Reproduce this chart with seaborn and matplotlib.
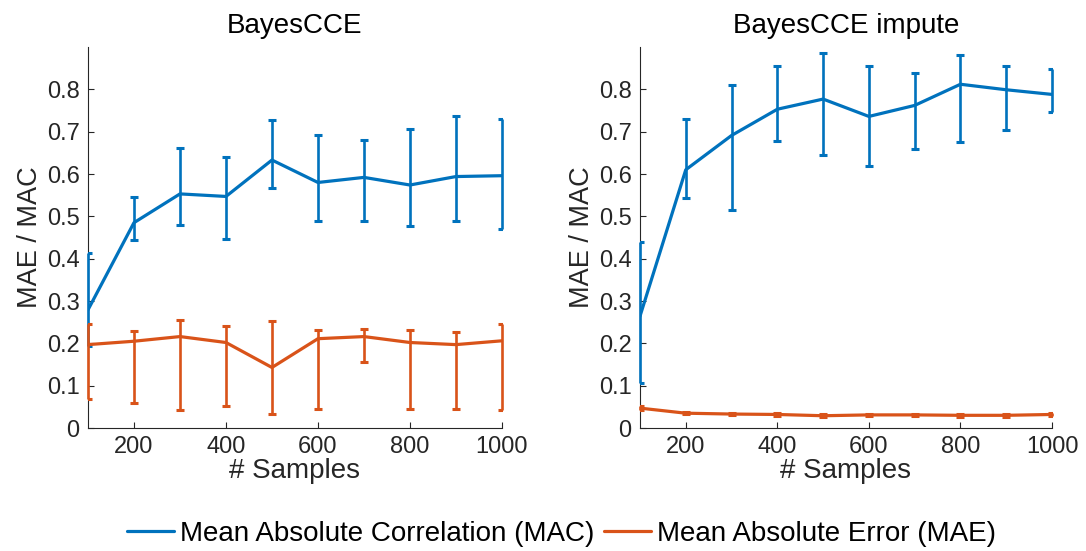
import numpy as np
import pandas as pd
import matplotlib
matplotlib.use("Agg")
import matplotlib.pyplot as plt
import seaborn as sns

# Data
samples = [100, 200, 300, 400, 500, 600, 700, 800, 900, 1000]

# BayesCCE
mac_mean = [0.279, 0.485, 0.553, 0.547, 0.633, 0.580, 0.592, 0.574, 0.594, 0.596]
mac_low = [0.193, 0.445, 0.480, 0.447, 0.568, 0.490, 0.489, 0.478, 0.488, 0.470]
mac_high = [0.413, 0.545, 0.662, 0.640, 0.728, 0.691, 0.681, 0.706, 0.736, 0.729]
mae_mean = [0.197, 0.205, 0.216, 0.202, 0.143, 0.211, 0.216, 0.202, 0.197, 0.206]
mae_low = [0.069, 0.059, 0.042, 0.051, 0.034, 0.046, 0.157, 0.046, 0.045, 0.042]
mae_high = [0.245, 0.230, 0.256, 0.242, 0.252, 0.231, 0.234, 0.231, 0.227, 0.245]

# BayesCCE impute
mac_imp_mean = [0.264, 0.610, 0.691, 0.753, 0.777, 0.736, 0.762, 0.812, 0.799, 0.788]
mac_imp_low = [0.106, 0.543, 0.515, 0.679, 0.645, 0.618, 0.659, 0.675, 0.704, 0.747]
mac_imp_high = [0.439, 0.729, 0.810, 0.854, 0.887, 0.856, 0.838, 0.881, 0.856, 0.847]
mae_imp_mean = [0.047, 0.035, 0.033, 0.032, 0.029, 0.031, 0.031, 0.030, 0.030, 0.032]
mae_imp_low = [0.042, 0.032, 0.030, 0.029, 0.026, 0.028, 0.028, 0.027, 0.027, 0.029]
mae_imp_high = [0.052, 0.038, 0.036, 0.035, 0.032, 0.034, 0.034, 0.033, 0.033, 0.035]

titles = ["BayesCCE", "BayesCCE impute"]
labels = ["Mean Absolute Correlation (MAC)", "Mean Absolute Error (MAE)"]
blue = "#0072BD"
orange = "#D95319"
ink = "#262626"

sns.set_theme(style="ticks")
plt.rcParams["font.family"] = ["Liberation Sans", "DejaVu Sans"]
plt.rcParams["axes.labelcolor"] = ink
plt.rcParams["xtick.color"] = ink
plt.rcParams["ytick.color"] = ink

fig = plt.figure(figsize=(10.86, 5.51), dpi=100)
ax1 = fig.add_axes([0.081, 0.2232, 0.3812, 0.6915])
ax2 = fig.add_axes([0.5893, 0.2232, 0.3794, 0.6915])

panels = [
    (ax1, [(mac_mean, mac_low, mac_high, blue), (mae_mean, mae_low, mae_high, orange)]),
    (ax2, [(mac_imp_mean, mac_imp_low, mac_imp_high, blue),
           (mae_imp_mean, mae_imp_low, mae_imp_high, orange)]),
]

for i, (ax, series) in enumerate(panels):
    for j, (mean, low, high, col) in enumerate(series):
        df = pd.DataFrame({"samples": samples, "value": mean})
        sns.lineplot(data=df, x="samples", y="value", ax=ax, color=col,
                     linewidth=2.3, label=labels[j], zorder=3)
        m = np.array(mean)
        yerr = [m - np.array(low), np.array(high) - m]
        eb = ax.errorbar(samples, mean, yerr=yerr, fmt="none", ecolor=col,
                         elinewidth=1.9, capsize=2.6, capthick=2.2, zorder=3)
        # keep the vertical bars whole at the axis edges, caps get clipped
        for bl in eb[2]:
            bl.set_clip_on(False)
    ax.set_xlim(100, 1000)
    ax.set_ylim(0, 0.9)
    ax.set_xticks([200, 400, 600, 800, 1000])
    ax.set_yticks([0, 0.1, 0.2, 0.3, 0.4, 0.5, 0.6, 0.7, 0.8])
    ax.set_yticklabels(["0", "0.1", "0.2", "0.3", "0.4", "0.5", "0.6", "0.7", "0.8"])
    ax.tick_params(direction="in", length=4, width=0.8, labelsize=17, pad=6)
    ax.set_xlabel("# Samples", fontsize=20, labelpad=0)
    ax.set_ylabel("MAE / MAC", fontsize=19.5, labelpad=3)
    ax.set_title(titles[i], fontsize=20, pad=10, color="black")
    for s in ["left", "bottom"]:
        ax.spines[s].set_color(ink)
        ax.spines[s].set_linewidth(0.8)
    sns.despine(ax=ax)
    ax.get_legend().remove()

handles, lbls = ax1.get_legend_handles_labels()
leg = fig.legend(handles, lbls, loc="center", bbox_to_anchor=(0.517, 1 - 534 / 551),
                 ncol=2, frameon=False, fontsize=20, handlelength=1.7,
                 handletextpad=0.2, columnspacing=0.35)
for t in leg.get_texts():
    t.set_color("black")

fig.savefig("out.png", dpi=100)
